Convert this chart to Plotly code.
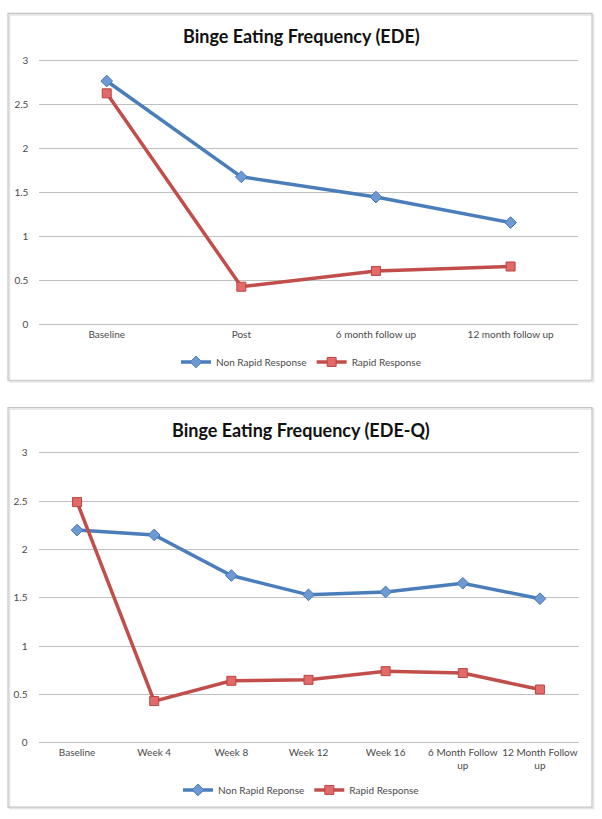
import plotly.graph_objects as go

# ---- Data ----
cats_ede = ["Baseline", "Post", "6 month follow up", "12 month follow up"]
ede_non_rapid = [2.77, 1.68, 1.45, 1.16]
ede_rapid = [2.63, 0.43, 0.61, 0.66]

cats_edeq = ["Baseline", "Week 4", "Week 8", "Week 12", "Week 16",
             "6 Month Follow<br>up", "12 Month Follow<br>up"]
edeq_non_rapid = [2.20, 2.15, 1.73, 1.53, 1.56, 1.65, 1.49]
edeq_rapid = [2.49, 0.43, 0.64, 0.65, 0.74, 0.72, 0.55]

y_ticks = [0, 0.5, 1, 1.5, 2, 2.5, 3]
y_tick_labels = ["0", "0.5", "1", "1.5", "2", "2.5", "3"]

W, H = 602, 819
BLUE = "#4A7EBB"
RED = "#C24E4B"
FONT = "Lato, 'Open Sans', sans-serif"
EPS = 0.025  # small padding so the 0 and 3 gridlines are drawn


def px_x(p):
    return p / W


def px_y(p):
    return 1 - p / H


def ydomain(top_px, bottom_px):
    k = (bottom_px - top_px) / 3.0
    return [px_y(bottom_px + EPS * k), px_y(top_px - EPS * k)]


fig = go.Figure()

blue_marker = dict(symbol="diamond", size=9, color="#6E9AD3",
                   line=dict(color="#4677B8", width=1))
red_marker = dict(symbol="square", size=9, color="#E26A68",
                  line=dict(color="#B94542", width=1))

fig.add_trace(go.Scatter(x=cats_ede, y=ede_non_rapid, name="Non Rapid Response",
                         mode="lines+markers", line=dict(color=BLUE, width=3.5),
                         marker=blue_marker, xaxis="x", yaxis="y", legend="legend"))
fig.add_trace(go.Scatter(x=cats_ede, y=ede_rapid, name="Rapid Response",
                         mode="lines+markers", line=dict(color=RED, width=3.5),
                         marker=red_marker, xaxis="x", yaxis="y", legend="legend"))
fig.add_trace(go.Scatter(x=cats_edeq, y=edeq_non_rapid, name="Non Rapid Reponse",
                         mode="lines+markers", line=dict(color=BLUE, width=3.5),
                         marker=blue_marker, xaxis="x2", yaxis="y2", legend="legend2"))
fig.add_trace(go.Scatter(x=cats_edeq, y=edeq_rapid, name="Rapid Response",
                         mode="lines+markers", line=dict(color=RED, width=3.5),
                         marker=red_marker, xaxis="x2", yaxis="y2", legend="legend2"))

tickfont = dict(family=FONT, size=10, color="#4a4a4a")
yaxis_common = dict(range=[-EPS, 3 + EPS], tickvals=y_ticks, ticktext=y_tick_labels,
                    showgrid=True, gridcolor="#C0C0C0", gridwidth=1.2,
                    zeroline=False, showline=False, tickfont=tickfont,
                    ticks="", ticklabelstandoff=10, fixedrange=True)
xaxis_common = dict(type="category", showgrid=False, zeroline=False,
                    showline=False, ticks="", tickfont=tickfont, fixedrange=True)

fig.update_layout(
    width=W, height=H,
    margin=dict(l=0, r=0, t=0, b=0),
    paper_bgcolor="white", plot_bgcolor="white",
    xaxis=dict(domain=[px_x(39.4), px_x(577.9)], range=[-0.5, 3.5], anchor="y",
               **xaxis_common),
    yaxis=dict(domain=ydomain(57.3, 323.3), anchor="x", **yaxis_common),
    xaxis2=dict(domain=[px_x(38.5), px_x(578.5)], range=[-0.5, 6.5], anchor="y2",
                **xaxis_common),
    yaxis2=dict(domain=ydomain(452.7, 745), anchor="x2", **yaxis_common),
    legend=dict(orientation="h", x=px_x(301), xanchor="center", y=px_y(361),
                yanchor="middle", font=dict(family=FONT, size=10, color="#4a4a4a"),
                bgcolor="rgba(0,0,0,0)", itemwidth=30),
    legend2=dict(orientation="h", x=px_x(301), xanchor="center", y=px_y(792.7),
                 yanchor="middle", font=dict(family=FONT, size=10, color="#4a4a4a"),
                 bgcolor="rgba(0,0,0,0)", itemwidth=30),
    showlegend=True,
    annotations=[
        dict(text="<b>Binge Eating Frequency (EDE)</b>", x=px_x(301), y=px_y(32),
             xref="paper", yref="paper", showarrow=False, xanchor="center",
             yanchor="middle", font=dict(family=FONT, size=18, color="#111")),
        dict(text="<b>Binge Eating Frequency (EDE-Q)</b>", x=px_x(301), y=px_y(430),
             xref="paper", yref="paper", showarrow=False, xanchor="center",
             yanchor="middle", font=dict(family=FONT, size=18, color="#111")),
    ],
    shapes=[
        dict(type="rect", xref="paper", yref="paper", x0=px_x(9.5), x1=px_x(593.5),
             y0=px_y(381), y1=px_y(11), line=dict(color="#E2E2E2", width=1.5),
             layer="below"),
        dict(type="rect", xref="paper", yref="paper", x0=px_x(8), x1=px_x(592),
             y0=px_y(379.5), y1=px_y(9.5), line=dict(color="#C4C4C4", width=1.2)),
        dict(type="rect", xref="paper", yref="paper", x0=px_x(9.5), x1=px_x(593.5),
             y0=px_y(811.5), y1=px_y(408.5), line=dict(color="#E2E2E2", width=1.5),
             layer="below"),
        dict(type="rect", xref="paper", yref="paper", x0=px_x(8), x1=px_x(592),
             y0=px_y(810), y1=px_y(407), line=dict(color="#C4C4C4", width=1.2)),
    ],
)

fig.write_html("out.html", config={"displayModeBar": False},
               post_script="document.body.style.margin='0';document.body.style.overflow='hidden';")
